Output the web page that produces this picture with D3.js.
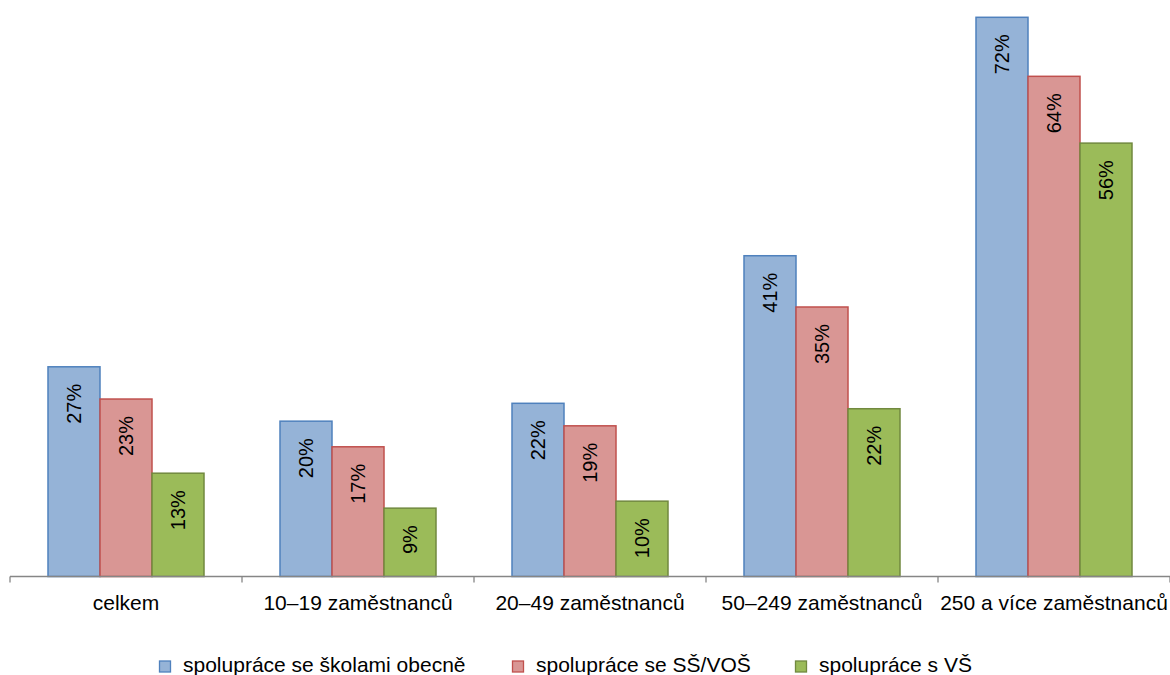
<!DOCTYPE html>
<html><head><meta charset="utf-8">
<script src="https://cdn.jsdelivr.net/npm/d3@7"></script>
<style>body{margin:0;background:#fff}svg{display:block}text{font-family:"Liberation Sans",Arial,sans-serif}</style>
</head><body>
<svg id="c" width="1170" height="675"></svg>
<script>
const categories = ["celkem","10–19 zaměstnanců","20–49 zaměstnanců","50–249 zaměstnanců","250 a více zaměstnanců"];
const seriesNames = ["spolupráce se školami obecně","spolupráce se SŠ/VOŠ","spolupráce s VŠ"];
const seriesObecne = [27.0, 20.0, 22.3, 41.3, 72.0];
const seriesSSVOS  = [22.85, 16.7, 19.4, 34.7, 64.4];
const seriesVS     = [13.3, 8.8, 9.7, 21.6, 55.8];
const labelsObecne = ["27%","20%","22%","41%","72%"];
const labelsSSVOS  = ["23%","17%","19%","35%","64%"];
const labelsVS     = ["13%","9%","10%","22%","56%"];
const fills   = ["#95B3D7","#D99694","#9BBB59"];
const strokes = ["#4F81BD","#C0504D","#71893F"];

const values = [seriesObecne, seriesSSVOS, seriesVS];
const labels = [labelsObecne, labelsSSVOS, labelsVS];
const svg = d3.select("#c");
const base = 576.5;
const pi = 76/232;
const x0 = d3.scaleBand().domain(categories).range([10,1170]).paddingInner(pi).paddingOuter(pi/2);
const x1 = d3.scaleBand().domain(d3.range(3)).range([0, x0.bandwidth()]);
const y = d3.scaleLinear().domain([0,72]).range([base,17.3]);

const data = [];
categories.forEach((c,ci)=>{ for(let s=0;s<3;s++) data.push({c,s,v:values[s][ci],l:labels[s][ci]}); });

svg.append("g").selectAll("rect").data(data).join("rect")
  .attr("x",d=>x0(d.c)+x1(d.s)).attr("width",x1.bandwidth())
  .attr("y",d=>y(d.v)).attr("height",d=>base-y(d.v))
  .attr("fill",d=>fills[d.s]).attr("stroke",d=>strokes[d.s]).attr("stroke-width",1.5);

svg.append("g").selectAll("text").data(data).join("text")
  .attr("transform",d=>`translate(${x0(d.c)+x1(d.s)+x1.bandwidth()/2},${y(d.v)+17}) rotate(-90)`)
  .attr("text-anchor","end").attr("dy","0.35em").attr("font-size",20).attr("fill","#000")
  .text(d=>d.l);

// axis
const ax = svg.append("g").attr("stroke","#868686").attr("stroke-width",1.3);
ax.append("line").attr("x1",10).attr("x2",1170).attr("y1",base).attr("y2",base);
const edges = categories.map(c=>x0(c)-(x0.step()-x0.bandwidth())/2).concat([1170]);
ax.selectAll(".t").data(edges).join("line").attr("class","t")
  .attr("x1",d=>d).attr("x2",d=>d).attr("y1",base).attr("y2",base+6);
svg.append("g").selectAll("text").data(categories).join("text")
  .attr("x",c=>x0(c)+x0.bandwidth()/2).attr("y",610).attr("text-anchor","middle")
  .attr("font-size",21).attr("fill","#000").text(c=>c);

// legend
const legX = [159,512,795];
const lg = svg.append("g").selectAll("g").data(seriesNames).join("g")
  .attr("transform",(d,i)=>`translate(${legX[i]},0)`);
lg.append("rect").attr("x",0.5).attr("y",661).attr("width",11).attr("height",11)
  .attr("fill",(d,i)=>fills[i]).attr("stroke",(d,i)=>strokes[i]).attr("stroke-width",1.3);
lg.append("text").attr("x",24).attr("y",672).attr("font-size",21).attr("fill","#000").text(d=>d);
</script>
</body></html>
